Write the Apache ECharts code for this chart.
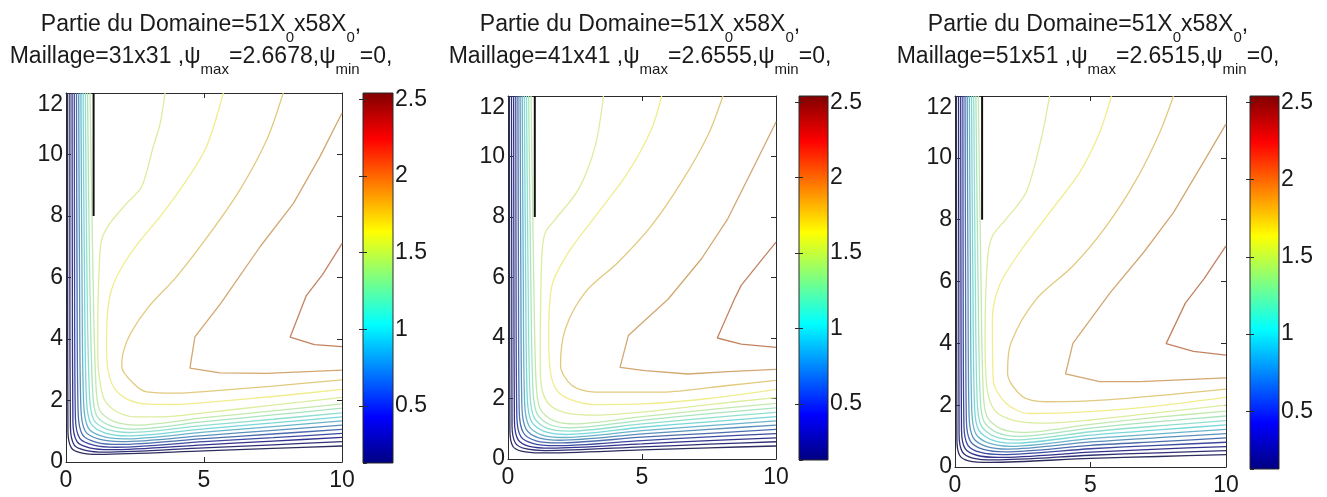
<!DOCTYPE html>
<html>
<head>
<meta charset="utf-8">
<script src="https://cdn.jsdelivr.net/npm/echarts@6/dist/echarts.min.js"></script>
<style>
html,body{margin:0;padding:0;background:#ffffff;}
#chart{width:1327px;height:497px;}
</style>
</head>
<body>
<div id="chart"></div>
<script>
// ---------------- data ----------------
const meshLabels = ['31x31', '41x41', '51x51'];
const psiMaxLabels = ['2.6678', '2.6555', '2.6515'];
const xTickValues = [0, 5, 10];
const yTickValues = [0, 2, 4, 6, 8, 10, 12];
const colorbarRange = [0.127, 2.541];
// contour level values (same 16 levels drawn in every panel)
const levelValues = [0.127, 0.254, 0.381, 0.508, 0.635, 0.762, 0.889, 1.016,
                     1.143, 1.270, 1.397, 1.524, 1.651, 1.778, 1.905, 2.033];
// black wall segment x=1, y from 8 to 12
const wallLine = [[1, 8], [1, 12]];

// Panel 1 : Maillage 31x31
const contours31 = [
  [[0.06,12],[0.06,6],[0.07,1.0],[0.2,0.45],[0.55,0.3],[1.2,0.25],[5,0.36],[7.5,0.44],[10,0.52]],
  [[0.14,12],[0.14,6],[0.16,1.15],[0.3,0.55],[0.7,0.38],[1.4,0.32],[5,0.46],[7.5,0.56],[10,0.66]],
  [[0.22,12],[0.23,6],[0.25,1.3],[0.4,0.66],[0.85,0.46],[1.6,0.40],[5,0.56],[7.5,0.68],[10,0.80]],
  [[0.30,12],[0.31,6],[0.34,1.45],[0.5,0.77],[1.0,0.55],[1.8,0.48],[5,0.66],[7.5,0.79],[10,0.93]],
  [[0.38,12],[0.40,6],[0.44,1.6],[0.6,0.88],[1.1,0.64],[1.9,0.57],[5,0.76],[7.5,0.91],[10,1.06]],
  [[0.46,12],[0.49,6],[0.54,1.75],[0.7,1.0],[1.2,0.74],[2.0,0.66],[5,0.86],[7.5,1.03],[10,1.20]],
  [[0.54,12],[0.58,6],[0.64,1.9],[0.8,1.12],[1.3,0.84],[2.1,0.75],[5,0.97],[7.5,1.15],[10,1.34]],
  [[0.62,12],[0.67,6],[0.74,2.05],[0.9,1.25],[1.4,0.95],[2.2,0.85],[5,1.08],[7.5,1.27],[10,1.47]],
  [[0.70,12],[0.76,6],[0.85,2.2],[1.0,1.38],[1.5,1.06],[2.3,0.96],[5,1.19],[7.5,1.39],[10,1.60]],
  [[0.78,12],[0.86,6],[0.96,2.4],[1.1,1.52],[1.6,1.18],[2.4,1.07],[5,1.31],[7.5,1.53],[10,1.75]],
  [[0.87,12],[0.98,6],[1.08,2.6],[1.22,1.68],[1.75,1.31],[2.6,1.2],[5,1.44],[7.5,1.66],[10,1.89]],
  [[3.59,12],[3.41,11.0],[3.16,10.25],[2.74,8.95],[2.2,8.41],[1.59,7.76],[1.29,7.22],[1.21,6.46],[1.16,5.1],[1.15,3.6],[1.2,2.8],[1.38,2.05],[1.8,1.66],[2.5,1.47],[3.5,1.47],[5,1.6],[7.5,1.85],[10,2.10]],
  [[5.70,12],[5.09,10.25],[4.37,9.17],[3.41,7.98],[2.6,7.1],[2.0,6.3],[1.65,5.6],[1.5,4.8],[1.47,3.8],[1.52,3.0],[1.75,2.4],[2.25,2.03],[3.0,1.88],[4.0,1.87],[5.0,1.93],[7.5,2.13],[10,2.36]],
  [[7.87,12],[7.27,10.47],[6.3,8.85],[5.22,7.44],[4.01,6.03],[3.0,5.05],[2.35,4.2],[2.08,3.6],[2.02,3.1],[2.44,2.56],[2.92,2.28],[4.0,2.24],[5.0,2.29],[7.5,2.47],[10,2.67]],
  [[10,11.35],[9.2,9.93],[8.24,8.41],[7.03,7.0],[5.6,5.15],[4.67,4.07],[4.49,3.05],[5.58,2.9],[7.27,2.88],[10,2.99]],
  [[10,7.1],[9.3,6.1],[8.7,5.4],[8.12,4.06],[9.0,3.82],[10,3.75]]
];

// Panel 2 : Maillage 41x41
const contours41 = [
  [[0.05,12],[0.06,6],[0.07,0.95],[0.18,0.42],[0.5,0.26],[1.2,0.2],[5,0.30],[7.5,0.37],[10,0.43]],
  [[0.13,12],[0.14,6],[0.15,1.1],[0.28,0.52],[0.65,0.34],[1.4,0.28],[5,0.40],[7.5,0.49],[10,0.57]],
  [[0.21,12],[0.22,6],[0.24,1.25],[0.38,0.63],[0.8,0.42],[1.6,0.36],[5,0.50],[7.5,0.61],[10,0.70]],
  [[0.29,12],[0.30,6],[0.33,1.4],[0.48,0.74],[0.95,0.51],[1.75,0.44],[5,0.61],[7.5,0.73],[10,0.84]],
  [[0.37,12],[0.39,6],[0.42,1.55],[0.58,0.86],[1.05,0.6],[1.85,0.53],[5,0.72],[7.5,0.85],[10,0.98]],
  [[0.45,12],[0.48,6],[0.52,1.7],[0.68,0.98],[1.15,0.7],[1.95,0.62],[5,0.83],[7.5,0.98],[10,1.12]],
  [[0.53,12],[0.57,6],[0.62,1.85],[0.78,1.1],[1.25,0.8],[2.05,0.71],[5,0.94],[7.5,1.10],[10,1.26]],
  [[0.61,12],[0.66,6],[0.72,2.0],[0.88,1.23],[1.35,0.91],[2.15,0.81],[5,1.05],[7.5,1.23],[10,1.40]],
  [[0.69,12],[0.75,6],[0.82,2.15],[0.98,1.36],[1.45,1.02],[2.25,0.92],[5,1.16],[7.5,1.36],[10,1.54]],
  [[0.77,12],[0.85,6],[0.93,2.3],[1.08,1.5],[1.55,1.14],[2.35,1.03],[5,1.28],[7.5,1.50],[10,1.69]],
  [[0.86,12],[0.96,6],[1.05,2.5],[1.2,1.66],[1.7,1.27],[2.5,1.16],[5,1.40],[7.5,1.63],[10,1.84]],
  [[3.56,12],[3.26,10.37],[2.64,8.93],[1.78,7.94],[1.40,7.5],[1.27,6.84],[1.21,4.63],[1.2,3.0],[1.3,2.2],[1.6,1.75],[2.2,1.52],[3.3,1.45],[5.0,1.55],[7.5,1.8],[10,2.03]],
  [[5.73,12],[5.36,10.92],[4.49,9.49],[3.38,8.16],[2.26,6.84],[1.64,5.73],[1.52,4.08],[1.58,2.9],[1.8,2.3],[2.26,1.99],[3.26,1.8],[5.0,1.82],[7.5,2.0],[10,2.30]],
  [[8.02,12],[7.46,10.7],[6.47,9.15],[5.36,7.72],[4.12,6.51],[2.88,5.51],[2.14,4.3],[1.96,3.09],[2.39,2.43],[3.26,2.21],[5.73,2.21],[8.2,2.43],[10,2.60]],
  [[10,11.14],[9.2,9.71],[8.2,7.94],[7.22,6.62],[5.98,5.29],[4.49,4.08],[4.18,3.03],[5.11,2.92],[6.72,2.81],[8.2,2.89],[10,2.96]],
  [[10,7.17],[9.3,6.4],[8.70,5.74],[8.45,5.29],[7.81,4.0],[8.70,3.80],[10,3.69]]
];

// Panel 3 : Maillage 51x51
const contours51 = [
  [[0.05,12],[0.06,6],[0.07,0.9],[0.17,0.38],[0.5,0.2],[1.3,0.15],[5,0.28],[7.5,0.34],[10,0.40]],
  [[0.13,12],[0.14,6],[0.15,1.05],[0.27,0.49],[0.65,0.29],[1.45,0.23],[5,0.38],[7.5,0.46],[10,0.53]],
  [[0.21,12],[0.22,6],[0.24,1.2],[0.37,0.6],[0.8,0.38],[1.6,0.31],[5,0.48],[7.5,0.58],[10,0.66]],
  [[0.29,12],[0.30,6],[0.33,1.35],[0.47,0.71],[0.95,0.47],[1.75,0.40],[5,0.59],[7.5,0.70],[10,0.80]],
  [[0.37,12],[0.39,6],[0.42,1.5],[0.57,0.83],[1.05,0.57],[1.85,0.49],[5,0.70],[7.5,0.82],[10,0.94]],
  [[0.45,12],[0.48,6],[0.52,1.65],[0.67,0.95],[1.15,0.67],[1.95,0.58],[5,0.81],[7.5,0.95],[10,1.08]],
  [[0.53,12],[0.57,6],[0.62,1.8],[0.77,1.07],[1.25,0.77],[2.05,0.67],[5,0.92],[7.5,1.07],[10,1.22]],
  [[0.61,12],[0.66,6],[0.72,1.95],[0.87,1.2],[1.35,0.88],[2.15,0.77],[5,1.03],[7.5,1.20],[10,1.36]],
  [[0.69,12],[0.75,6],[0.82,2.1],[0.97,1.33],[1.45,0.99],[2.25,0.88],[5,1.14],[7.5,1.33],[10,1.50]],
  [[0.77,12],[0.85,6],[0.93,2.25],[1.07,1.47],[1.55,1.11],[2.35,0.99],[5,1.26],[7.5,1.47],[10,1.65]],
  [[0.86,12],[0.96,6],[1.04,2.45],[1.18,1.63],[1.68,1.24],[2.5,1.12],[5,1.38],[7.5,1.61],[10,1.81]],
  [[3.49,12],[3.18,10.61],[2.62,8.88],[1.88,8.01],[1.38,7.47],[1.2,6.72],[1.11,4.22],[1.15,2.8],[1.3,2.1],[1.63,1.7],[2.4,1.47],[3.5,1.42],[5.0,1.52],[7.5,1.76],[10,2.00]],
  [[5.77,12],[5.34,10.83],[4.6,9.53],[3.49,8.23],[2.37,6.93],[1.63,5.85],[1.38,4.77],[1.41,2.82],[1.88,2.06],[2.74,1.73],[4.97,1.79],[7.5,1.98],[10,2.25]],
  [[8.06,12],[7.56,10.83],[6.7,9.31],[5.59,7.8],[4.35,6.5],[2.99,5.42],[2.06,4.0],[1.94,3.03],[2.50,2.27],[3.36,2.11],[5.59,2.17],[10,2.52]],
  [[10,11.1],[9.17,9.86],[8.06,8.23],[6.95,6.93],[5.72,5.63],[4.35,4.0],[4.08,3.01],[5.34,2.76],[6.82,2.76],[10,2.88]],
  [[10,7.15],[9.2,6.1],[8.5,5.3],[7.79,3.99],[8.8,3.74],[10,3.62]]
];

const panelContours = [contours31, contours41, contours51];

// ---------------- layout / style ----------------
const plotBoxes = [
  {left: 66, top: 93, width: 276, height: 369},
  {left: 508, top: 96, width: 268, height: 363},
  {left: 955, top: 96, width: 271, height: 371}
];
const barBoxes = [
  {left: 363, top: 93, width: 30, height: 370},
  {left: 799, top: 96, width: 29, height: 364},
  {left: 1250, top: 96, width: 29, height: 373}
];
const titleCenters = [201, 640, 1088];
const FONT = '"Liberation Sans", Arial, Helvetica, sans-serif';
const INK = '#1a1a1a';
const FRAME = '#2b2b2b';

const jetStops = [
  {offset: 0, color: '#000080'},
  {offset: 0.125, color: '#0000ff'},
  {offset: 0.375, color: '#00ffff'},
  {offset: 0.625, color: '#ffff00'},
  {offset: 0.875, color: '#ff0000'},
  {offset: 1, color: '#800000'}
];
function clamp01(v) { return Math.max(0, Math.min(1, v)); }
function lineColor(val) {
  const t = (val - colorbarRange[0]) / (colorbarRange[1] - colorbarRange[0]);
  const r = clamp01(1.5 - Math.abs(4 * t - 3)) * 255;
  const g = clamp01(1.5 - Math.abs(4 * t - 2)) * 255;
  const b = clamp01(1.5 - Math.abs(4 * t - 1)) * 255;
  const lum = 0.299 * r + 0.587 * g + 0.114 * b;
  const f = c => Math.round(0.85 * (lum + 0.45 * (c - lum)) + 0.15 * 255);
  return 'rgb(' + f(r) + ',' + f(g) + ',' + f(b) + ')';
}

const grids = [];
const xAxes = [];
const yAxes = [];
const series = [];
const titles = [];

const tickStyle = {lineStyle: {color: FRAME, width: 1}};
const labelBase = {color: INK, fontFamily: FONT, fontSize: 23, fontWeight: 'normal'};

for (let p = 0; p < 3; p++) {
  grids.push(Object.assign({containLabel: false}, plotBoxes[p]));
}
for (let p = 0; p < 3; p++) {
  grids.push(Object.assign({containLabel: false}, barBoxes[p]));
}
// main x axes: bottom (0..2), top mirror (3..5)
for (let p = 0; p < 3; p++) {
  xAxes.push({
    gridIndex: p, type: 'value', min: xTickValues[0], max: xTickValues[xTickValues.length - 1], interval: 5,
    position: 'bottom',
    axisLine: {show: true, onZero: false, lineStyle: {color: FRAME, width: 1}},
    axisTick: Object.assign({show: true, inside: true, length: 5}, tickStyle),
    axisLabel: Object.assign({margin: 7}, labelBase),
    splitLine: {show: false}
  });
}
for (let p = 0; p < 3; p++) {
  xAxes.push({
    gridIndex: p, type: 'value', min: 0, max: 10, interval: 5, position: 'top',
    axisLine: {show: true, onZero: false, lineStyle: {color: FRAME, width: 1}},
    axisTick: Object.assign({show: true, inside: true, length: 5}, tickStyle),
    axisLabel: {show: false}, splitLine: {show: false}
  });
}
// colorbar x axes (6..8)
for (let p = 0; p < 3; p++) {
  xAxes.push({gridIndex: 3 + p, type: 'value', min: 0, max: 1, show: false});
}
// main y axes: left (0..2), right mirror (3..5)
for (let p = 0; p < 3; p++) {
  yAxes.push({
    gridIndex: p, type: 'value', min: yTickValues[0], max: yTickValues[yTickValues.length - 1], interval: 2,
    position: 'left',
    axisLine: {show: true, onZero: false, lineStyle: {color: FRAME, width: 1}},
    axisTick: Object.assign({show: true, inside: true, length: 5}, tickStyle),
    axisLabel: Object.assign({margin: 3, verticalAlignMaxLabel: 'top'}, labelBase),
    splitLine: {show: false}
  });
}
for (let p = 0; p < 3; p++) {
  yAxes.push({
    gridIndex: p, type: 'value', min: 0, max: 12, interval: 2, position: 'right',
    axisLine: {show: true, onZero: false, lineStyle: {color: FRAME, width: 1}},
    axisTick: Object.assign({show: true, inside: true, length: 5}, tickStyle),
    axisLabel: {show: false}, splitLine: {show: false}
  });
}
// colorbar y axes: right with labels (6..8), left mirror (9..11)
for (let p = 0; p < 3; p++) {
  yAxes.push({
    gridIndex: 3 + p, type: 'value', min: colorbarRange[0], max: colorbarRange[1], splitNumber: 5,
    position: 'right', z: 5,
    axisLine: {show: false},
    axisTick: Object.assign({show: true, inside: true, length: 4}, tickStyle),
    axisLabel: Object.assign({margin: 2, showMinLabel: false, showMaxLabel: false}, labelBase),
    splitLine: {show: false}
  });
}
for (let p = 0; p < 3; p++) {
  yAxes.push({
    gridIndex: 3 + p, type: 'value', min: colorbarRange[0], max: colorbarRange[1], splitNumber: 5,
    position: 'left', z: 5,
    axisLine: {show: false},
    axisTick: Object.assign({show: true, inside: true, length: 4}, tickStyle),
    axisLabel: {show: false}, splitLine: {show: false}
  });
}

for (let p = 0; p < 3; p++) {
  const lines = panelContours[p];
  lines.forEach((pts, k) => {
    series.push({
      type: 'line', xAxisIndex: p, yAxisIndex: p,
      data: pts, showSymbol: false, symbol: 'none', silent: true, clip: true,
      smooth: k < 14 ? 0.3 : false,
      lineStyle: {width: 1.3, color: lineColor(levelValues[k])},
      z: 2
    });
  });
  series.push({
    type: 'line', xAxisIndex: p, yAxisIndex: p, data: wallLine,
    showSymbol: false, symbol: 'none', silent: true,
    lineStyle: {width: 2, color: '#111111'}, z: 3
  });
  // colorbar
  series.push({
    type: 'custom', xAxisIndex: 6 + p, yAxisIndex: 6 + p, silent: true,
    coordinateSystem: 'cartesian2d',
    data: [[0, colorbarRange[0], colorbarRange[1]]],
    encode: {x: 0, y: [1, 2]},
    renderItem: function (params, api) {
      const bl = api.coord([0, api.value(1)]);
      const tr = api.coord([1, api.value(2)]);
      return {
        type: 'rect',
        shape: {x: bl[0], y: tr[1], width: tr[0] - bl[0], height: bl[1] - tr[1]},
        style: {
          fill: new echarts.graphic.LinearGradient(0, 1, 0, 0, jetStops),
          stroke: FRAME, lineWidth: 1
        }
      };
    },
    z: 2
  });
  titles.push({
    left: titleCenters[p], top: 13, textAlign: 'center', padding: 0,
    text: '{n|Partie du Domaine=51X}{s|0}{n|x58X}{s|0}{n|,}\n' +
          '{n|Maillage=' + meshLabels[p] + ' ,ψ}{s|max}{n|=' + psiMaxLabels[p] + ',ψ}{s|min}{n|=0,}',
    textStyle: {
      fontWeight: 'normal',
      rich: {
        n: {fontFamily: FONT, fontSize: 23, fontWeight: 'normal', color: INK, lineHeight: 32, verticalAlign: 'top'},
        s: {fontFamily: FONT, fontSize: 15, fontWeight: 'normal', color: INK, lineHeight: 18, verticalAlign: 'bottom'}
      }
    }
  });
}

const chart = echarts.init(document.getElementById('chart'), null, {renderer: 'canvas'});
chart.setOption({
  animation: false,
  backgroundColor: '#ffffff',
  textStyle: {fontFamily: FONT},
  title: titles,
  grid: grids,
  xAxis: xAxes,
  yAxis: yAxes,
  series: series
});
</script>
</body>
</html>
